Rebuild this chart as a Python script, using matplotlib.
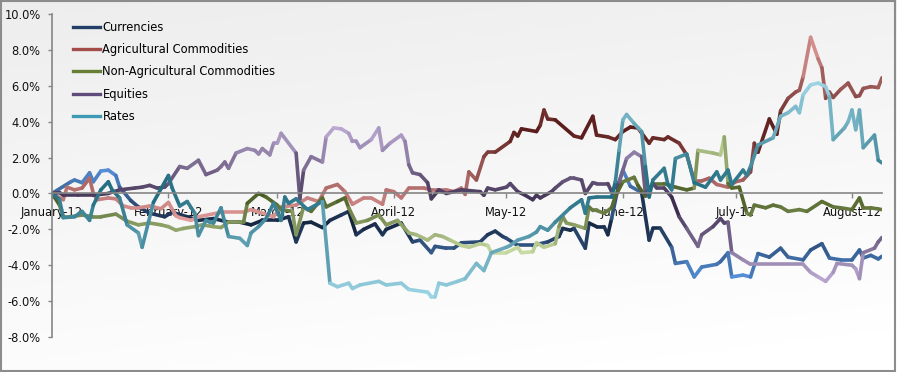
import numpy as np
import pandas as pd
import matplotlib
matplotlib.use("Agg")
import matplotlib.pyplot as plt
import matplotlib.dates as mdates
from matplotlib.collections import LineCollection
from matplotlib.colors import LinearSegmentedColormap
from matplotlib.lines import Line2D
from matplotlib.patches import Rectangle
from matplotlib.ticker import FuncFormatter, MultipleLocator

# Cumulative performance (%) by day offset from 1 Jan 2012
START = pd.Timestamp("2012-01-01")
END_DAY = 221

currencies_days = [0, 5, 6, 8, 10, 11, 13, 15, 17, 18, 21, 23, 26, 30, 32, 36, 39, 43, 47, 50,
                   53, 56, 60, 63, 65, 67, 69, 72, 74, 77, 79, 81, 83, 86, 88, 89, 93, 96, 98, 101,
                   102, 105, 107, 109, 114, 116, 118, 120, 121, 124, 128, 132, 135, 136, 138, 139, 142, 143, 145, 147,
                   148, 149, 151, 152, 154, 157, 159, 160, 162, 165, 166, 169, 171, 173, 177, 178, 180, 181, 184, 186,
                   188, 191, 194, 196, 200, 202, 205, 207, 210, 213, 215, 216, 218, 220, 221]
currencies_vals = [0, 0.65, 0.75, 0.6, 1.15, 0.65, 1.25, 1.3, 1.0, 0.35, -0.4, -0.75, -1.1, -1.3, -1.05, -1.3, -1.5, -1.4, -1.6, -1.6,
                   -1.75, -1.5, -1.5, -1.3, -2.7, -1.65, -1.6, -1.9, -1.5, -1.2, -1.0, -2.3, -2.0, -1.7, -2.3, -2.0, -1.65, -2.7, -2.6, -3.3,
                   -2.95, -3.05, -3.05, -2.75, -2.7, -2.3, -2.1, -2.4, -2.5, -2.9, -2.9, -2.7, -2.4, -1.95, -2.05, -1.95, -3.05, -1.65, -1.85, -1.85,
                   -2.3, -1.4, 0.6, 1.3, 0.4, 0.05, -2.6, -1.95, -1.95, -3.0, -3.9, -3.8, -4.65, -4.1, -3.95, -3.8, -3.3, -4.65, -4.55, -4.65,
                   -3.35, -3.55, -3.05, -3.55, -3.7, -3.15, -2.8, -3.6, -3.7, -3.7, -3.15, -3.6, -3.45, -3.65, -3.5]

agri_days = [0, 3, 4, 6, 8, 10, 11, 12, 15, 17, 19, 21, 23, 26, 29, 31, 33, 34, 37, 39,
             45, 51, 53, 56, 59, 61, 65, 68, 71, 73, 76, 78, 80, 83, 85, 88, 89, 91, 93, 95,
             99, 101, 105, 107, 109, 110, 111, 113, 115, 116, 118, 122, 123, 124, 125, 129, 130, 131, 132, 134,
             139, 141, 144, 145, 148, 150, 152, 154, 156, 159, 160, 163, 164, 167, 169, 171, 173, 175, 177, 180,
             182, 184, 186, 187, 188, 191, 193, 194, 196, 198, 199, 200, 202, 204, 205, 206, 207, 208, 210, 212,
             214, 215, 216, 218, 220, 221]
agri_vals = [0, -0.35, 0.35, 0.2, 0.3, 0.85, 0.0, -0.35, -0.25, -0.3, -0.7, -0.8, -0.8, -0.7, -0.85, -0.5, -1.25, -1.35, -1.5, -1.3,
             -1.05, -1.05, -0.9, -1.1, -1.3, -0.75, -0.65, -0.25, -0.45, 0.3, 0.5, 0.1, -0.6, -0.25, -0.25, -0.6, 0.2, 0.1, -0.25, 0.3,
             0.3, 0.2, 0.2, 0.1, 0.3, -0.05, 1.2, 0.75, 2.05, 2.3, 2.3, 2.9, 3.4, 3.2, 3.6, 3.45, 3.8, 4.65, 4.15, 4.1,
             3.2, 3.1, 4.3, 3.25, 3.15, 3.0, 3.45, 3.7, 3.65, 2.8, 3.1, 3.0, 3.15, 2.8, 2.15, 0.7, 0.7, 0.85, 0.5, 0.35,
             0.65, 0.75, 1.2, 2.8, 2.3, 4.15, 3.3, 4.6, 5.3, 5.65, 5.75, 6.5, 8.7, 7.5, 7.0, 5.3, 5.65, 5.35, 5.8, 6.15,
             5.4, 5.45, 5.85, 5.95, 5.9, 6.45]

nonagri_days = [0, 2, 3, 5, 8, 11, 13, 17, 20, 23, 26, 29, 31, 33, 35, 38, 40, 43, 45, 47,
                51, 52, 55, 57, 60, 61, 64, 65, 67, 69, 72, 73, 76, 78, 79, 81, 84, 87, 89, 92,
                95, 97, 100, 102, 104, 106, 109, 111, 114, 116, 117, 121, 124, 125, 128, 129, 131, 134, 135, 136,
                137, 139, 142, 143, 144, 145, 147, 149, 150, 152, 155, 156, 158, 160, 163, 166, 169, 171, 172, 176,
                178, 179, 180, 181, 183, 185, 186, 187, 190, 192, 194, 196, 199, 201, 205, 208, 210, 213, 215, 216,
                218, 221]
nonagri_vals = [0, -0.65, -1.3, -1.3, -1.2, -1.3, -1.3, -1.15, -1.55, -1.75, -1.65, -1.75, -1.85, -2.05, -1.95, -1.85, -1.75, -1.85, -1.9, -1.6,
                -1.6, -0.55, 0.0, -0.2, -0.65, -0.9, -1.0, -2.3, -0.75, -1.0, -0.25, -0.75, -0.45, -0.25, -0.8, -1.65, -1.5, -1.2, -1.75, -1.5,
                -2.2, -2.3, -2.6, -2.3, -2.4, -2.6, -2.9, -3.0, -2.8, -2.9, -3.3, -3.3, -3.0, -3.3, -3.25, -2.75, -3.0, -2.8, -1.85, -1.3,
                -1.65, -1.75, -1.95, -0.75, -0.95, -0.95, -1.1, -0.8, -0.15, 0.65, 0.9, 0.45, -0.15, 0.55, 0.55, 0.35, 0.2, 0.3, 2.4, 2.25,
                2.15, 3.15, 0.55, 0.3, 0.35, -1.1, -1.2, -0.65, -0.8, -0.65, -0.75, -1.0, -0.9, -1.0, -0.45, -0.75, -0.8, -0.9, -0.25, -0.8,
                -0.8, -0.9]

equities_days = [0, 2, 3, 7, 11, 15, 18, 22, 24, 26, 28, 30, 31, 34, 36, 39, 41, 44, 45, 46,
                 47, 49, 52, 54, 55, 56, 58, 59, 60, 61, 65, 66, 67, 69, 72, 73, 75, 77, 79, 80,
                 81, 82, 85, 87, 88, 90, 93, 94, 95, 96, 98, 100, 101, 103, 105, 109, 114, 115, 116, 118,
                 121, 122, 124, 126, 128, 129, 130, 133, 134, 136, 138, 139, 141, 142, 144, 145, 148, 149, 151, 153,
                 155, 157, 158, 160, 161, 163, 165, 167, 169, 172, 173, 176, 178, 179, 180, 181, 184, 186, 200, 202,
                 204, 206, 208, 209, 213, 214, 215, 216, 219, 220, 221]
equities_vals = [0, 0.05, -0.1, -0.1, -0.1, 0.0, 0.2, 0.3, 0.35, 0.45, 0.3, 0.35, 0.55, 1.5, 1.4, 1.85, 1.05, 1.3, 1.5, 1.75,
                 1.4, 2.25, 2.5, 2.4, 2.2, 2.5, 2.15, 2.8, 2.8, 3.35, 2.25, -0.3, 1.3, 2.05, 1.75, 3.15, 3.65, 3.6, 3.35, 2.9,
                 2.9, 2.55, 3.0, 3.65, 2.4, 2.8, 3.25, 2.9, 1.6, 1.15, 1.05, 0.6, -0.3, 0.2, 0.0, 0.2, 0.1, -0.1, 0.3, 0.2,
                 0.35, 0.55, 0.1, -0.1, -0.35, -0.1, -0.25, 0.1, 0.3, 0.65, 0.85, 0.85, 0.75, 0.0, 0.6, 0.55, 0.55, 0.1, 0.65, 1.95,
                 2.3, 2.05, 0.0, 0.55, 0.3, 0.3, -0.2, -1.3, -1.95, -2.95, -2.3, -1.85, -1.4, -1.65, -1.6, -3.3, -3.7, -3.95, -3.95, -4.4,
                 -4.65, -4.9, -4.4, -3.9, -4.0, -4.2, -4.75, -3.3, -3.05, -2.7, -2.45]

rates_days = [0, 2, 3, 6, 8, 10, 11, 13, 15, 16, 18, 20, 23, 24, 27, 31, 32, 34, 36, 38,
              39, 41, 42, 43, 45, 47, 50, 52, 53, 55, 57, 59, 61, 62, 63, 65, 68, 72, 74, 76,
              79, 80, 82, 87, 89, 93, 95, 100, 101, 102, 103, 105, 108, 110, 113, 114, 115, 117, 121, 122,
              124, 127, 129, 130, 132, 134, 138, 141, 142, 143, 145, 149, 150, 151, 152, 153, 155, 157, 158, 159,
              160, 163, 164, 165, 166, 169, 171, 174, 177, 178, 180, 181, 184, 185, 186, 188, 192, 194, 196, 198,
              199, 200, 202, 204, 206, 207, 208, 211, 212, 213, 214, 215, 216, 219, 220, 221]
rates_vals = [0, -0.35, -1.35, -1.3, -1.0, -1.5, -0.65, 0.2, 0.65, 0.2, -0.25, -1.75, -2.2, -3.0, -0.5, 1.0, 0.3, -0.7, -0.45, -1.1,
              -2.35, -1.5, -1.6, -1.65, -0.8, -2.4, -2.5, -2.9, -2.2, -1.85, -1.4, -0.55, -1.5, -0.2, -0.55, -0.3, -0.9, -0.45, -5.0, -5.2,
              -5.0, -5.3, -5.1, -4.9, -5.1, -5.0, -5.35, -5.5, -5.75, -5.75, -5.0, -5.1, -4.9, -4.75, -3.9, -4.1, -4.3, -3.3, -3.0, -2.9,
              -2.6, -2.4, -2.15, -1.85, -2.05, -1.6, -0.8, -0.35, -1.1, -0.25, -0.2, -0.2, 0.65, 2.4, 4.1, 4.4, 3.9, 3.45, 1.5, -0.2,
              0.75, 1.4, 0.5, 0.2, 1.95, 2.2, 0.6, 0.35, 1.2, 0.75, 1.3, 0.5, 1.3, 1.0, 1.5, 2.7, 3.1, 4.3, 4.5, 4.85,
              4.5, 5.5, 6.05, 6.15, 5.95, 5.4, 3.0, 3.65, 4.0, 4.65, 3.55, 4.65, 2.55, 3.25, 1.85, 1.7]

series_names = ["Currencies", "Agricultural Commodities", "Non-Agricultural Commodities", "Equities", "Rates"]

# (light, dark, legend) colours; lines shade light -> dark -> light over each series' own range
SERIES_STYLE = {
    "Currencies": ("#5590d8", "#15253f", "#233f68"),
    "Agricultural Commodities": ("#e39d9b", "#5a1c1a", "#a44c49"),
    "Non-Agricultural Commodities": ("#c8dba2", "#46591f", "#667f35"),
    "Equities": ("#bcaad3", "#392b4d", "#5e4b7c"),
    "Rates": ("#9dd5e5", "#226c80", "#3e9ab4"),
}

FONT_SIZE = 8.3


def to_dates(days):
    return mdates.date2num(START + pd.to_timedelta(days, unit="D"))


def draw_series(ax, days, vals, light, dark):
    x = to_dates(days)
    y = np.asarray(vals, dtype=float)
    pts = np.column_stack([x, y])
    segs = np.stack([pts[:-1], pts[1:]], axis=1)
    mid = (y[:-1] + y[1:]) / 2
    t = (mid - y.min()) / (y.max() - y.min())
    cmap = LinearSegmentedColormap.from_list("g", [light, dark, light])
    lc = LineCollection(segs, colors=cmap(t), linewidths=2.6,
                        capstyle="round", joinstyle="round")
    ax.add_collection(lc)


fig = plt.figure(figsize=(8.97, 3.72), dpi=100)

# background gradient + border
bg = fig.add_axes([0, 0, 1, 1], zorder=-10)
gy, gx = np.mgrid[0:1:200j, 0:1:200j]
shade = 0.93 + 0.07 * np.clip(0.85 * gy + 0.25 * gx, 0, 1)
bg.imshow(np.dstack([shade, shade, shade]), extent=[0, 1, 0, 1],
          origin="upper", aspect="auto")
bg.set_axis_off()
fig.patches.append(Rectangle((0.001, 0.002), 0.997, 0.995, transform=fig.transFigure,
                             fill=False, edgecolor="#8c8c8c", linewidth=1.5))

ax = fig.add_axes([52 / 897, 1 - 337 / 372, 830 / 897, 323 / 372])
ax.patch.set_alpha(0)

all_data = [
    (currencies_days, currencies_vals),
    (agri_days, agri_vals),
    (nonagri_days, nonagri_vals),
    (equities_days, equities_vals),
    (rates_days, rates_vals),
]
for name, (d, v) in zip(series_names, all_data):
    light, dark, _ = SERIES_STYLE[name]
    draw_series(ax, d, v, light, dark)

ax.set_xlim(to_dates([0])[0], to_dates([END_DAY])[0])
ax.set_ylim(-8, 10)

# axes styling
axis_grey = "#868686"
for side in ["top", "right"]:
    ax.spines[side].set_visible(False)
ax.spines["bottom"].set_position(("data", 0))
ax.spines["bottom"].set_color(axis_grey)
ax.spines["left"].set_color(axis_grey)
ax.spines["bottom"].set_linewidth(1.2)
ax.spines["left"].set_linewidth(1.2)

ax.xaxis.set_major_locator(mdates.MonthLocator())
ax.xaxis.set_major_formatter(mdates.DateFormatter("%B-%y"))
ax.yaxis.set_major_locator(MultipleLocator(2))
ax.yaxis.set_major_formatter(FuncFormatter(lambda v, _: f"{v:.1f}%"))

ax.tick_params(axis="x", direction="out", length=3.5, width=1, color=axis_grey,
               pad=5.2, labelsize=FONT_SIZE, labelcolor="#111111")
ax.tick_params(axis="y", direction="out", length=3, width=1, color=axis_grey,
               pad=5.2, labelsize=FONT_SIZE, labelcolor="#111111")

# legend
handles = [Line2D([0], [0], color=SERIES_STYLE[n][2], linewidth=2.4) for n in series_names]
ax.legend(handles, series_names, loc="upper left", bbox_to_anchor=(73 / 897, 1 - 21 / 372),
          bbox_transform=fig.transFigure, frameon=False, fontsize=FONT_SIZE,
          handlelength=2.35, handletextpad=0.2, labelspacing=0.8,
          borderpad=0, borderaxespad=0)

fig.savefig("out.png", dpi=100)
plt.close(fig)
